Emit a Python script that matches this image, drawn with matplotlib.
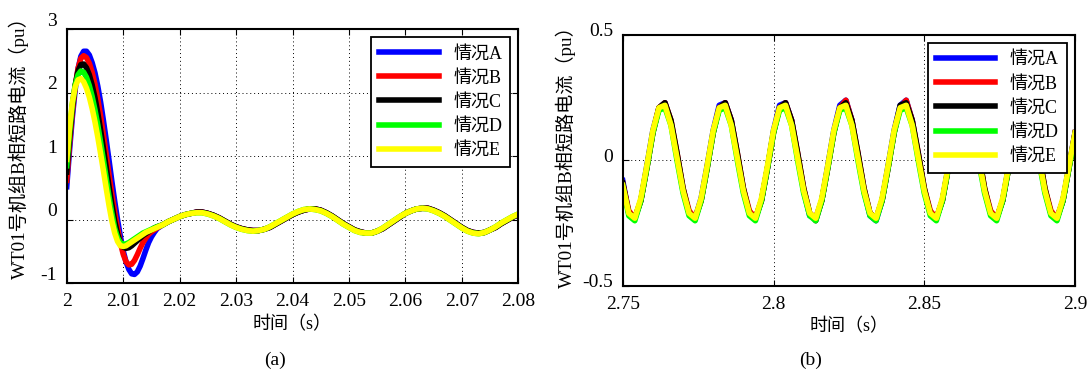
import numpy as np
import matplotlib.pyplot as plt
from matplotlib.transforms import ScaledTranslation

plt.rcParams['font.family'] = ['Liberation Serif', 'Noto Sans CJK SC']
plt.rcParams['axes.unicode_minus'] = False

LABELS = ['情况A', '情况B', '情况C', '情况D', '情况E']
COLOURS = ['#0000ff', '#ff0000', '#000000', '#00ff00', '#ffff00']
YLABEL = 'WT01号机组B相短路电流（pu）'
XLABEL = '时间（s）'

# ---- panel (a): samples in ms after t = 2 s ----
T_HEAD_MS = np.arange(0, 16.5, 0.5)
T_TAIL_MS = np.arange(17, 81, 1)

HEAD_A = [0.52, 1.10, 1.62, 2.05, 2.37, 2.57, 2.65, 2.65, 2.59, 2.47, 2.31,
          2.10, 1.85, 1.56, 1.25, 0.93, 0.60, 0.29, 0.00, -0.26, -0.49, -0.66,
          -0.78, -0.85, -0.86, -0.82, -0.73, -0.61, -0.48, -0.36, -0.27, -0.20, -0.14]
HEAD_B = [0.62, 1.20, 1.70, 2.10, 2.38, 2.54, 2.58, 2.55, 2.46, 2.32, 2.13,
          1.90, 1.63, 1.33, 1.02, 0.70, 0.40, 0.12, -0.13, -0.36, -0.54, -0.66,
          -0.71, -0.70, -0.64, -0.55, -0.45, -0.36, -0.29, -0.23, -0.19, -0.16, -0.13]
HEAD_C = [0.75, 1.30, 1.78, 2.12, 2.34, 2.44, 2.45, 2.39, 2.28, 2.12, 1.92,
          1.68, 1.41, 1.12, 0.82, 0.52, 0.24, -0.02, -0.22, -0.36, -0.43, -0.45,
          -0.44, -0.41, -0.37, -0.33, -0.29, -0.25, -0.22, -0.19, -0.16, -0.13, -0.11]
HEAD_D = [0.85, 1.38, 1.82, 2.12, 2.28, 2.34, 2.32, 2.24, 2.11, 1.94, 1.73,
          1.49, 1.22, 0.94, 0.65, 0.36, 0.10, -0.13, -0.28, -0.36, -0.39, -0.38,
          -0.36, -0.33, -0.30, -0.27, -0.24, -0.21, -0.19, -0.17, -0.15, -0.13, -0.11]
HEAD_E = [0.95, 1.45, 1.85, 2.09, 2.20, 2.22, 2.17, 2.07, 1.93, 1.75, 1.54,
          1.30, 1.04, 0.77, 0.49, 0.22, -0.02, -0.21, -0.34, -0.41, -0.42, -0.41,
          -0.38, -0.35, -0.32, -0.29, -0.26, -0.23, -0.20, -0.18, -0.16, -0.14, -0.12]

TAIL_ABC = [-0.08, -0.03, 0.01, 0.05, 0.08, 0.10, 0.12, 0.12, 0.10, 0.07,
            0.03, -0.02, -0.07, -0.11, -0.14, -0.16, -0.17, -0.17, -0.15, -0.12,
            -0.07, -0.02, 0.03, 0.08, 0.12, 0.15, 0.17, 0.17, 0.15, 0.11,
            0.06, 0.00, -0.06, -0.11, -0.16, -0.19, -0.21, -0.21, -0.18, -0.14,
            -0.08, -0.02, 0.04, 0.10, 0.14, 0.17, 0.18, 0.18, 0.15, 0.11,
            0.06, 0.00, -0.06, -0.12, -0.17, -0.20, -0.21, -0.20, -0.16, -0.12,
            -0.06, -0.01, 0.04, 0.08]
TAIL_DE = [-0.08, -0.03, 0.01, 0.05, 0.08, 0.10, 0.11, 0.11, 0.09, 0.06,
           0.02, -0.03, -0.08, -0.12, -0.15, -0.17, -0.18, -0.17, -0.15, -0.11,
           -0.06, -0.01, 0.04, 0.09, 0.13, 0.16, 0.17, 0.16, 0.14, 0.10,
           0.05, -0.01, -0.07, -0.12, -0.17, -0.20, -0.21, -0.21, -0.18, -0.13,
           -0.07, -0.01, 0.05, 0.10, 0.14, 0.17, 0.18, 0.17, 0.14, 0.10,
           0.05, -0.01, -0.07, -0.13, -0.18, -0.21, -0.22, -0.20, -0.16, -0.11,
           -0.05, 0.00, 0.05, 0.09]

# ---- panel (b): samples every 2 ms from 2.75 s to 2.90 s ----
T_B = np.linspace(2.75, 2.90, 76)

B_A = [-0.08, -0.21, -0.23, -0.16, -0.02, 0.12, 0.21, 0.23, 0.15, 0.02,
       -0.12, -0.21, -0.23, -0.15, -0.02, 0.12, 0.22, 0.23, 0.16, 0.02,
       -0.12, -0.21, -0.23, -0.16, -0.03, 0.12, 0.22, 0.23, 0.16, 0.02,
       -0.12, -0.22, -0.23, -0.16, -0.02, 0.12, 0.22, 0.24, 0.16, 0.02,
       -0.12, -0.22, -0.24, -0.16, -0.02, 0.12, 0.22, 0.24, 0.16, 0.02,
       -0.12, -0.21, -0.23, -0.16, -0.02, 0.12, 0.22, 0.23, 0.16, 0.02,
       -0.12, -0.21, -0.23, -0.16, -0.02, 0.12, 0.21, 0.23, 0.15, 0.02,
       -0.12, -0.21, -0.23, -0.16, -0.02, 0.11]
B_B = [-0.09, -0.20, -0.23, -0.16, -0.03, 0.11, 0.21, 0.23, 0.16, 0.03,
       -0.11, -0.20, -0.23, -0.16, -0.03, 0.11, 0.21, 0.23, 0.16, 0.03,
       -0.11, -0.20, -0.23, -0.16, -0.03, 0.11, 0.21, 0.23, 0.16, 0.03,
       -0.11, -0.21, -0.23, -0.16, -0.03, 0.11, 0.21, 0.24, 0.16, 0.03,
       -0.11, -0.21, -0.23, -0.16, -0.03, 0.11, 0.21, 0.24, 0.16, 0.03,
       -0.11, -0.20, -0.23, -0.16, -0.03, 0.11, 0.21, 0.23, 0.16, 0.03,
       -0.11, -0.20, -0.23, -0.16, -0.03, 0.11, 0.21, 0.23, 0.16, 0.03,
       -0.11, -0.20, -0.23, -0.16, -0.03, 0.11]
B_C = [-0.09, -0.21, -0.23, -0.16, -0.03, 0.11, 0.21, 0.23, 0.16, 0.03,
       -0.11, -0.21, -0.23, -0.16, -0.03, 0.11, 0.21, 0.23, 0.16, 0.03,
       -0.11, -0.21, -0.23, -0.16, -0.03, 0.11, 0.21, 0.23, 0.16, 0.03,
       -0.11, -0.21, -0.24, -0.16, -0.03, 0.11, 0.21, 0.23, 0.16, 0.03,
       -0.11, -0.21, -0.23, -0.16, -0.03, 0.11, 0.22, 0.23, 0.16, 0.03,
       -0.11, -0.21, -0.23, -0.16, -0.03, 0.11, 0.21, 0.23, 0.16, 0.03,
       -0.11, -0.21, -0.23, -0.16, -0.03, 0.11, 0.21, 0.23, 0.16, 0.03,
       -0.11, -0.21, -0.23, -0.16, -0.03, 0.11]
B_D = [-0.10, -0.22, -0.24, -0.16, -0.03, 0.11, 0.20, 0.21, 0.14, 0.00,
       -0.13, -0.22, -0.24, -0.16, -0.03, 0.11, 0.20, 0.21, 0.14, 0.00,
       -0.13, -0.22, -0.24, -0.16, -0.03, 0.11, 0.20, 0.21, 0.14, 0.00,
       -0.13, -0.22, -0.24, -0.16, -0.03, 0.11, 0.20, 0.21, 0.14, 0.00,
       -0.13, -0.22, -0.24, -0.16, -0.03, 0.11, 0.20, 0.21, 0.14, 0.00,
       -0.13, -0.22, -0.24, -0.16, -0.03, 0.11, 0.20, 0.21, 0.14, 0.00,
       -0.13, -0.22, -0.24, -0.16, -0.03, 0.11, 0.20, 0.21, 0.14, 0.00,
       -0.13, -0.22, -0.24, -0.16, -0.03, 0.10]
B_E = [-0.10, -0.21, -0.23, -0.15, -0.02, 0.12, 0.21, 0.22, 0.14, 0.01,
       -0.12, -0.21, -0.23, -0.15, -0.02, 0.12, 0.21, 0.22, 0.14, 0.01,
       -0.12, -0.21, -0.23, -0.15, -0.02, 0.12, 0.21, 0.22, 0.14, 0.01,
       -0.12, -0.21, -0.23, -0.15, -0.02, 0.12, 0.21, 0.22, 0.14, 0.01,
       -0.12, -0.21, -0.23, -0.15, -0.02, 0.12, 0.21, 0.22, 0.14, 0.01,
       -0.12, -0.21, -0.23, -0.15, -0.02, 0.12, 0.21, 0.22, 0.14, 0.01,
       -0.12, -0.21, -0.23, -0.15, -0.02, 0.12, 0.21, 0.22, 0.14, 0.01,
       -0.12, -0.21, -0.23, -0.15, -0.02, 0.11]

FS_TICK = 14
FS_LABEL = 13
FS_YLABEL = 13.8

t_a = 2 + np.concatenate([T_HEAD_MS, T_TAIL_MS]) / 1000
series_a = [HEAD_A + TAIL_ABC, HEAD_B + TAIL_ABC, HEAD_C + TAIL_ABC,
            HEAD_D + TAIL_DE, HEAD_E + TAIL_DE]
series_b = [B_A, B_B, B_C, B_D, B_E]

fig = plt.figure(figsize=(10.87, 3.72), dpi=100)
ax_a = fig.add_axes([0.0614, 0.2384, 0.4154, 0.6836])
ax_b = fig.add_axes([0.5729, 0.2312, 0.4161, 0.6748])


def style_axes(ax, xticks, xlabels, yticks, ylabels, ylab_xy, ytick_shift):
    ax.set_xticks(xticks)
    ax.set_xticklabels(xlabels)
    ax.set_yticks(yticks)
    ax.set_yticklabels(ylabels)
    ax.tick_params(direction='in', top=True, right=True, length=4,
                   width=0.8, labelsize=FS_TICK, pad=7)
    ax.grid(True, color='black', linestyle=(0, (1, 3)), linewidth=0.7)
    for sp in ax.spines.values():
        sp.set_linewidth(1.5)
    ax.set_xlabel(XLABEL, fontsize=FS_LABEL, labelpad=4)
    ax.set_ylabel(YLABEL, fontsize=FS_YLABEL)
    ax.yaxis.set_label_coords(*ylab_xy)
    # MATLAB export draws y tick labels a little above their ticks
    shift = ScaledTranslation(0, ytick_shift / 100, fig.dpi_scale_trans)
    for lab in ax.get_yticklabels():
        lab.set_transform(lab.get_transform() + shift)
    leg = ax.legend(loc='upper right', fontsize=FS_LABEL, handlelength=3.3,
                    handletextpad=0.8, labelspacing=0.4, borderaxespad=0.45,
                    fancybox=False, framealpha=1, edgecolor='black',
                    borderpad=0.45)
    leg.get_frame().set_linewidth(1.3)
    for line in leg.get_lines():
        line.set_linewidth(4)


for y, lab, col in zip(series_a, LABELS, COLOURS):
    ax_a.plot(t_a, y, color=col, lw=4, label=lab, solid_joinstyle='round')
ax_a.set_xlim(2, 2.08)
ax_a.set_ylim(-1, 3)
style_axes(ax_a,
           [2, 2.01, 2.02, 2.03, 2.04, 2.05, 2.06, 2.07, 2.08],
           ['2', '2.01', '2.02', '2.03', '2.04', '2.05', '2.06', '2.07', '2.08'],
           [-1, 0, 1, 2, 3], ['-1', '0', '1', '2', '3'],
           (-0.083, 0.55), 10)

for y, lab, col in zip(series_b, LABELS, COLOURS):
    ax_b.plot(T_B, y, color=col, lw=4, label=lab, solid_joinstyle='round')
ax_b.set_xlim(2.75, 2.9)
ax_b.set_ylim(-0.5, 0.5)
style_axes(ax_b,
           [2.75, 2.8, 2.85, 2.9], ['2.75', '2.8', '2.85', '2.9'],
           [-0.5, 0, 0.5], ['-0.5', '0', '0.5'],
           (-0.103, 0.534), 5)

fig.text(0.253, 0.03, '(a)', fontsize=FS_TICK, ha='center', va='center')
fig.text(0.746, 0.03, '(b)', fontsize=FS_TICK, ha='center', va='center')

fig.savefig('out.png', dpi=100)
